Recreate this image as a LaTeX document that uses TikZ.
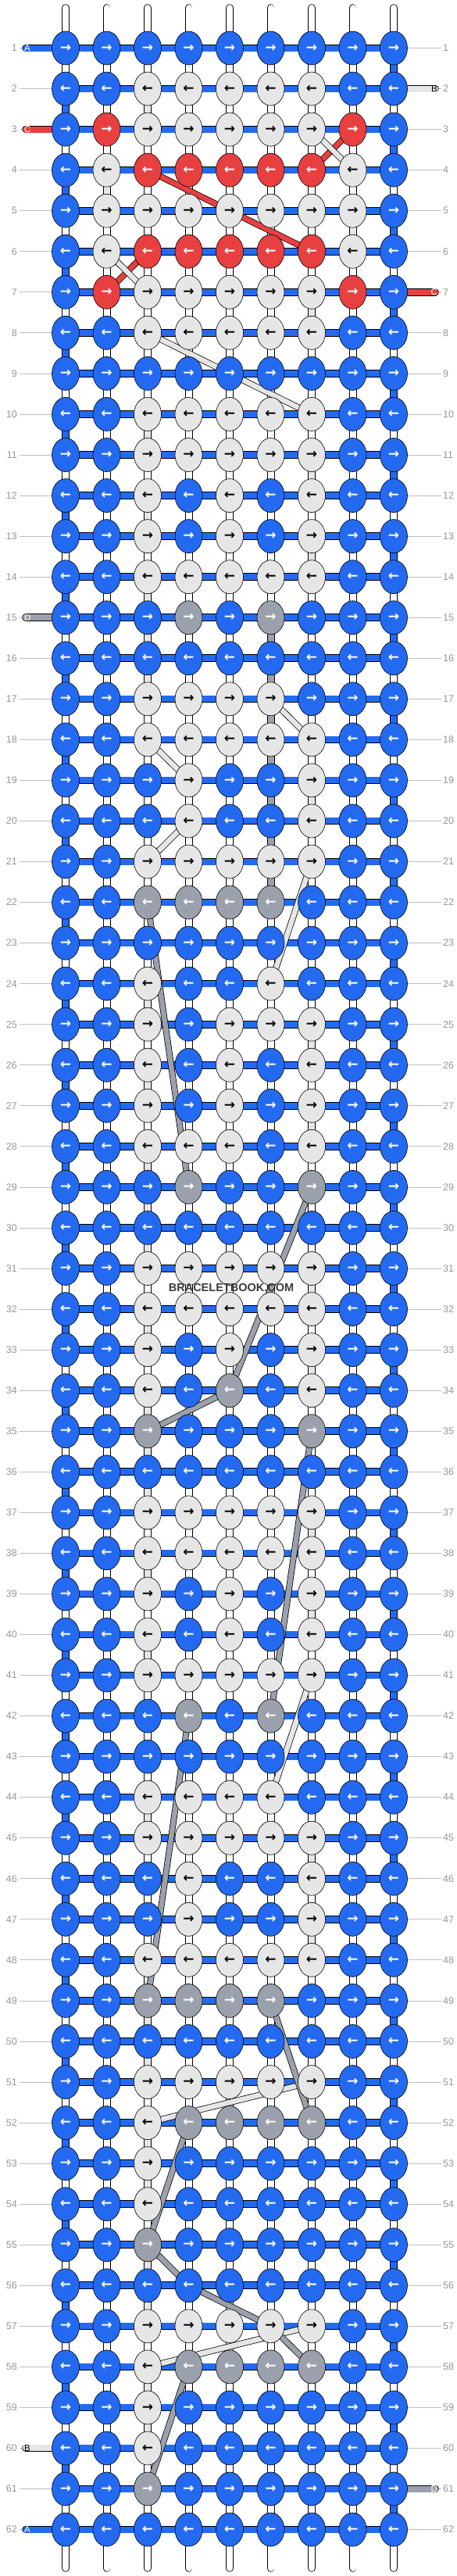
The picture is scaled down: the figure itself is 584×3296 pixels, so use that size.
\documentclass[tikz,border=0pt]{standalone}
\usepackage{fontspec}
\setmainfont{Liberation Sans}
\newfontfamily\arrowfont{DejaVu Sans}
\usetikzlibrary{shapes.geometric}

\definecolor{kb}{RGB}{36,106,240}
\definecolor{kw}{RGB}{230,230,230}
\definecolor{kr}{RGB}{232,64,64}
\definecolor{kg}{RGB}{155,161,172}
\definecolor{rowgray}{RGB}{150,150,150}
\definecolor{linegray}{RGB}{190,190,190}
\definecolor{wmgray}{RGB}{60,60,60}

\pgfdeclarelayer{segs}
\pgfdeclarelayer{bars}
\pgfdeclarelayer{floats}
\pgfsetlayers{segs,bars,floats,main}

\begin{document}
\begin{tikzpicture}[x=1pt,y=-1pt,
  knot/.style={ellipse,draw=black,line width=0.6pt,minimum width=35pt,minimum height=43pt,inner sep=0pt,font=\arrowfont\bfseries\fontsize{17}{17}\selectfont},
  knotb/.style={knot,fill=kb,text=white},
  knotw/.style={knot,fill=kw,text=black},
  knotr/.style={knot,fill=kr,text=white},
  knotg/.style={knot,fill=kg,text=white},
  seg/.style={draw=#1,line width=8pt,preaction={draw=black,line width=10pt}},
  bar/.style={draw=kb,line width=8pt,preaction={draw=black,line width=9.6pt}},
  band/.style={draw=#1,line width=6.5pt,preaction={draw=black,line width=8pt}},
  thread/.style={draw=#1,line width=8pt,line cap=round,preaction={draw=black,line width=9.6pt,line cap=round}},
  rowlab/.style={text=rowgray,font=\fontsize{12.5}{13}\selectfont,inner sep=2.5pt},
  labline/.style={draw=linegray,line width=0.8pt},
  stubtxt/.style={font=\fontsize{11.5}{12}\selectfont,inner sep=0pt},
  watermark/.style={text=wmgray,font=\bfseries\fontsize{14.5}{15}\selectfont}
]
\useasboundingbox (0,0) rectangle (584,3296);

% knots, one row of nine per line
\foreach \r/\row in {
  1/{b,b,b,b,b,b,b,b,b}, 2/{b,b,w,w,w,w,w,b,b}, 3/{b,r,w,w,w,w,w,r,b},
  4/{b,w,r,r,r,r,r,w,b}, 5/{b,w,w,w,w,w,w,w,b}, 6/{b,w,r,r,r,r,r,w,b},
  7/{b,r,w,w,w,w,w,r,b}, 8/{b,b,w,w,w,w,w,b,b}, 9/{b,b,b,b,b,b,b,b,b},
  10/{b,b,w,w,w,w,w,b,b}, 11/{b,b,w,w,w,w,w,b,b}, 12/{b,b,w,b,w,b,w,b,b},
  13/{b,b,w,b,w,b,w,b,b}, 14/{b,b,w,w,w,w,w,b,b}, 15/{b,b,b,g,b,g,b,b,b},
  16/{b,b,b,b,b,b,b,b,b}, 17/{b,b,w,w,w,w,b,b,b}, 18/{b,b,w,w,w,w,w,b,b},
  19/{b,b,b,w,b,b,w,b,b}, 20/{b,b,b,w,b,b,w,b,b}, 21/{b,b,w,w,w,w,w,b,b},
  22/{b,b,g,g,g,g,b,b,b}, 23/{b,b,b,b,b,b,b,b,b}, 24/{b,b,w,b,b,w,b,b,b},
  25/{b,b,w,b,w,w,w,b,b}, 26/{b,b,w,b,w,b,w,b,b}, 27/{b,b,w,b,w,b,w,b,b},
  28/{b,b,w,w,w,b,w,b,b}, 29/{b,b,b,g,b,b,g,b,b}, 30/{b,b,b,b,b,b,b,b,b},
  31/{b,b,w,w,w,w,w,b,b}, 32/{b,b,w,w,w,w,w,b,b}, 33/{b,b,w,b,w,b,w,b,b},
  34/{b,b,w,b,g,b,w,b,b}, 35/{b,b,g,b,b,b,g,b,b}, 36/{b,b,b,b,b,b,b,b,b},
  37/{b,b,w,w,w,w,w,b,b}, 38/{b,b,w,w,w,w,w,b,b}, 39/{b,b,w,b,w,b,w,b,b},
  40/{b,b,w,b,w,b,w,b,b}, 41/{b,b,w,w,w,w,w,b,b}, 42/{b,b,b,g,b,g,b,b,b},
  43/{b,b,b,b,b,b,b,b,b}, 44/{b,b,w,w,w,w,b,b,b}, 45/{b,b,w,w,w,w,w,b,b},
  46/{b,b,b,w,b,b,w,b,b}, 47/{b,b,b,w,b,b,w,b,b}, 48/{b,b,w,w,w,w,w,b,b},
  49/{b,b,g,g,g,g,b,b,b}, 50/{b,b,b,b,b,b,b,b,b}, 51/{b,b,w,w,w,w,w,b,b},
  52/{b,b,w,g,g,g,g,b,b}, 53/{b,b,w,b,b,b,b,b,b}, 54/{b,b,w,b,b,b,b,b,b},
  55/{b,b,g,b,b,b,b,b,b}, 56/{b,b,b,b,b,b,b,b,b}, 57/{b,b,w,w,w,w,w,b,b},
  58/{b,b,w,g,g,g,g,b,b}, 59/{b,b,w,b,b,b,b,b,b}, 60/{b,b,w,b,b,b,b,b,b},
  61/{b,b,g,b,b,b,b,b,b}, 62/{b,b,b,b,b,b,b,b,b}}{
  \pgfmathsetmacro\y{61.5+(\r-1)*52.05}
  \ifodd\r \def\glyph{→}\else \def\glyph{←}\fi
  \foreach \k [count=\c] in \row {
    \pgfmathsetmacro\x{84+(\c-1)*52.5}
    \node[knot\k] (k-\r-\c) at (\x,\y) {\glyph};
  }
  \node[rowlab,anchor=east] (ll-\r) at (24.5,\y) {\r};
  \node[rowlab,anchor=west] (rl-\r) at (564.5,\y) {\r};
}

\node[watermark] (wm) at (296,1647) {BRACELETBOOK.COM};

\begin{pgfonlayer}{segs}
\fill[white] (0,0) rectangle (584,3296);
\foreach \r in {1,...,62}{
  \draw[labline] (ll-\r) -- (k-\r-1);
  \draw[labline] (k-\r-9) -- (rl-\r);
}
% vertical threads
\foreach \c in {1,...,9}{
  \coordinate (top-\c) at (84+52.5*\c-52.5,10);
  \coordinate (bot-\c) at (84+52.5*\c-52.5,3286);
  \draw[thread=white] (top-\c) -- (k-1-\c.center);
  \draw[thread=white] (k-62-\c.center) -- (bot-\c);
}
\foreach \r in {1,...,61}{
  \pgfmathtruncatemacro\rn{\r+1}
  \foreach \c in {1,...,9}{\draw[seg=white] (k-\r-\c.center) -- (k-\rn-\c.center);}
  \ifodd\r \draw[seg=kb] (k-\r-9.center) -- (k-\rn-9.center);
  \else \draw[seg=kb] (k-\r-1.center) -- (k-\rn-1.center);\fi
}
\foreach \r/\c in {2/3,4/2,5/8,7/7,10/3,11/7,12/3,13/7,14/3,15/3,16/3,19/7,
  24/3,25/7,26/3,27/7,28/3,29/3,30/3,31/7,32/3,33/7,34/3,35/3,36/3,37/7,38/3,
  39/7,40/3,44/3,45/7,47/7,48/3,49/3,50/3,52/3,53/3,55/3,56/3,58/3,59/3}{
  \pgfmathtruncatemacro\rn{\r+1}
  \draw[seg=kw] (k-\r-\c.center) -- (k-\rn-\c.center);
}
\foreach \r in {15,...,21}{
  \pgfmathtruncatemacro\rn{\r+1}
  \draw[seg=kg] (k-\r-6.center) -- (k-\rn-6.center);
}
% loose ends
\foreach \r/\col/\sname/\scol in {1/kb/A/white,3/kr/C/white,15/kg/D/white,60/kw/B/black,62/kb/A/white}{
  \pgfmathsetmacro\y{61.5+(\r-1)*52.05}
  \coordinate (ls-\r) at (33,\y);
  \draw[thread=\col] (ls-\r) -- (k-\r-1.center);
  \node[stubtxt,text=\scol,anchor=west] (lt-\r) at (31,\y) {\sname};
}
\foreach \r/\col/\sname/\scol in {2/kw/B/black,7/kr/C/white,61/kg/D/white}{
  \pgfmathsetmacro\y{61.5+(\r-1)*52.05}
  \coordinate (rs-\r) at (557,\y);
  \draw[thread=\col] (k-\r-9.center) -- (rs-\r);
  \node[stubtxt,text=\scol,anchor=east] (rt-\r) at (560,\y) {\sname};
}
\end{pgfonlayer}

\begin{pgfonlayer}{bars}
\foreach \r in {1,...,62}{
  \foreach \c in {1,...,8}{
    \pgfmathtruncatemacro\cn{\c+1}
    \draw[bar] (k-\r-\c.center) -- (k-\r-\cn.center);
  }
}
\end{pgfonlayer}

\begin{pgfonlayer}{floats}
\foreach \ra/\ca/\rb/\cb in {3/8/4/7,4/3/5/5,5/5/6/7,7/2/6/3}
  \draw[band=kr] (k-\ra-\ca.center) -- (k-\rb-\cb.center);
\foreach \ra/\ca/\rb/\cb in {3/7/4/8,6/2/7/3,8/3/9/5,9/5/10/7,17/6/18/7,18/3/19/4,
  20/4/21/3,21/7/24/6,41/7/44/6,52/3/51/7,58/3/57/7}
  \draw[band=kw] (k-\ra-\ca.center) -- (k-\rb-\cb.center);
\foreach \ra/\ca/\rb/\cb in {22/3/29/4,29/7/34/5,34/5/35/3,35/7/42/6,42/4/49/3,
  49/6/52/7,52/4/55/3,55/3/56/4,56/4/57/6,57/6/58/7,58/4/61/3}
  \draw[band=kg] (k-\ra-\ca.center) -- (k-\rb-\cb.center);
\end{pgfonlayer}

\end{tikzpicture}
\end{document}
